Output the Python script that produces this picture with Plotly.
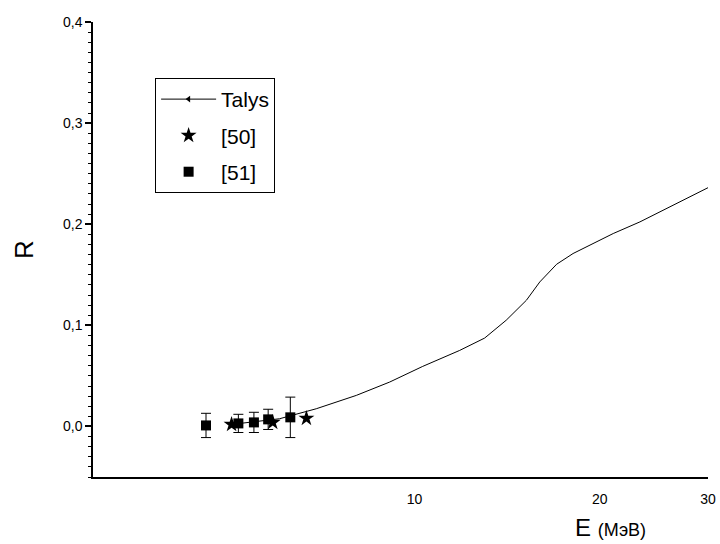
import plotly.graph_objects as go
import numpy as np

# Talys calculation
talys_E = [5.04, 6.03, 6.92, 8.04, 9.11, 10.31, 11.84, 13.0, 14.09, 15.2,
           15.98, 17.02, 18.1, 20.01, 21.04, 23.25, 25.7, 28.4, 30.2]
talys_R = [0.002, 0.0076, 0.0175, 0.0307, 0.0439, 0.0594, 0.0752, 0.0874, 0.105, 0.1248,
           0.1429, 0.1604, 0.171, 0.184, 0.1908, 0.2023, 0.2155, 0.2287, 0.237]

# Experimental data [50]
exp50_E = [5.04, 5.88, 6.67]
exp50_R = [0.002, 0.004, 0.008]

# Experimental data [51]
exp51_E = [4.58, 5.17, 5.48, 5.78, 6.28]
exp51_R = [0.001, 0.003, 0.004, 0.007, 0.009]
exp51_err = [0.012, 0.009, 0.010, 0.010, 0.020]

x_ticks = [10, 20, 30]
y_ticks = [0.0, 0.1, 0.2, 0.3, 0.4]

FONT = "Liberation Sans, Arial, sans-serif"

fig = go.Figure()

fig.add_trace(go.Scatter(
    x=talys_E, y=talys_R, mode="lines",
    line=dict(color="black", width=1),
    showlegend=False, hoverinfo="skip"))

# legend entry for the calculation (line with small triangle marker)
fig.add_trace(go.Scatter(
    x=[None], y=[None], mode="lines+markers", name="Talys",
    line=dict(color="black", width=1),
    marker=dict(symbol="triangle-left", size=6, color="black"),
    legendgroup="a"))

fig.add_trace(go.Scatter(
    x=exp50_E, y=exp50_R, mode="markers", name="[50]",
    marker=dict(symbol="star", size=12, color="black"),
    legendgroup="b"))

fig.add_trace(go.Scatter(
    x=exp51_E, y=exp51_R, mode="markers", name="[51]",
    marker=dict(symbol="square", size=10, color="black"),
    error_y=dict(type="data", array=exp51_err, visible=True,
                 color="black", thickness=1, width=5),
    legendgroup="c"))

fig.update_layout(
    width=720, height=544,
    margin=dict(l=93, r=12, t=22, b=67, autoexpand=False),
    paper_bgcolor="white", plot_bgcolor="white",
    separators=", ",
    font=dict(family=FONT, color="black", size=14),
    showlegend=True,
    legend=dict(
        x=0.101, y=0.877, xref="paper", yref="paper",
        xanchor="left", yanchor="top",
        bgcolor="white", bordercolor="black", borderwidth=1,
        font=dict(family=FONT, size=21, color="black"),
        traceorder="grouped", tracegroupgap=6, itemwidth=55,
    ),
    annotations=[
        dict(text="E <span style='font-size:18px'>(МэВ)</span>",
             xref="paper", yref="paper", x=0.842, y=-0.11,
             xanchor="center", yanchor="middle", showarrow=False,
             font=dict(family=FONT, size=24, color="black")),
    ],
)

fig.update_xaxes(
    type="log", range=[np.log10(3), np.log10(30)],
    tickvals=x_ticks, ticktext=[str(v) for v in x_ticks],
    showline=True, linecolor="black", linewidth=1.5,
    ticks="", showgrid=False, zeroline=False, ticklabelstandoff=8,
    tickfont=dict(family=FONT, size=14, color="black"),
)

fig.update_yaxes(
    range=[-0.05, 0.4], tickvals=y_ticks, tickformat=".1f",
    showline=True, linecolor="black", linewidth=1.5,
    ticks="outside", ticklen=6, tickwidth=1.5, tickcolor="black",
    minor=dict(dtick=0.01, ticks="outside", ticklen=3, tickwidth=1.2, tickcolor="black", showgrid=False),
    showgrid=False, zeroline=False,
    tickfont=dict(family=FONT, size=14, color="black"),
    title=dict(text="R", font=dict(family=FONT, size=26, color="black"), standoff=22),
)

fig.write_html("out.html")
